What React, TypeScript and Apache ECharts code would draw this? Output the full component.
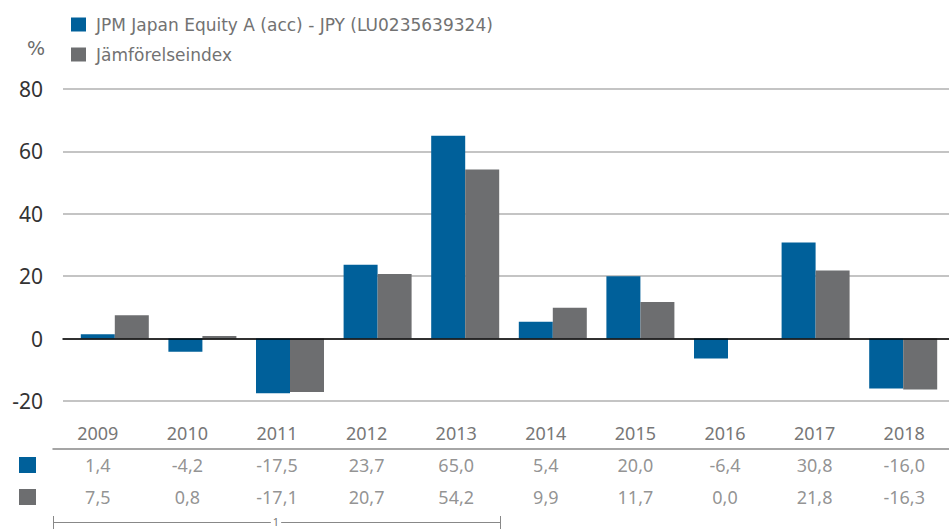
import React, { useEffect, useRef } from "react";
import * as echarts from "echarts";

const years = ["2009", "2010", "2011", "2012", "2013", "2014", "2015", "2016", "2017", "2018"];
const fundName = "JPM Japan Equity A (acc) - JPY (LU0235639324)";
const benchName = "Jämförelseindex";
const fundValues = [1.4, -4.2, -17.5, 23.7, 65.0, 5.4, 20.0, -6.4, 30.8, -16.0];
const benchValues = [7.5, 0.8, -17.1, 20.7, 54.2, 9.9, 11.7, 0.0, 21.8, -16.3];
const rows = ["fund", "bench"];
const yMin = -20;
const yMax = 80;
const yInterval = 20;

const BLUE = "#00609A";
const GRAY = "#6D6E70";
const FONT = "'Noto Sans', 'Open Sans', sans-serif";
const LEGEND_FONT = "'DejaVu Sans', 'Noto Sans', sans-serif";

const fmt = (v: number) => v.toFixed(1).replace(".", ",");

export default function App() {
  const ref = useRef<HTMLDivElement>(null);
  useEffect(() => {
    if (!ref.current) return;
    const chart = echarts.init(ref.current, undefined, { renderer: "svg" });
    const option: any = {
      animation: false,
      textStyle: { fontFamily: FONT },
      legend: {
        data: [fundName, benchName],
        orient: "vertical",
        left: 66,
        top: 11,
        icon: "rect",
        itemWidth: 15,
        itemHeight: 14,
        itemGap: 13,
        selectedMode: false,
        textStyle: {
          color: "#727272",
          fontSize: 17,
          lineHeight: 14,
          fontFamily: LEGEND_FONT,
          padding: [0, 0, 0, 5],
        },
      },
      graphic: [
        { type: "text", left: 27, top: 38, style: { text: "%", fontSize: 19, fill: "#6b6b6b", fontFamily: LEGEND_FONT } },
        { type: "line", shape: { x1: 53, y1: 522.5, x2: 500, y2: 522.5 }, style: { stroke: "#888", lineWidth: 1 } },
        { type: "line", shape: { x1: 53.5, y1: 516, x2: 53.5, y2: 529 }, style: { stroke: "#888", lineWidth: 1 } },
        { type: "line", shape: { x1: 500.5, y1: 516, x2: 500.5, y2: 529 }, style: { stroke: "#888", lineWidth: 1 } },
        {
          type: "text",
          x: 276,
          y: 521,
          style: {
            text: "1",
            fontSize: 11,
            fill: "#777",
            fontFamily: FONT,
            align: "center",
            verticalAlign: "middle",
            backgroundColor: "#fff",
            padding: [0, 2],
          },
        },
      ],
      grid: [
        { left: 63, right: 0, top: 89, height: 312 },
        { left: 71, right: 2, top: 89, height: 312 },
        { left: 53, right: -4, top: 449, height: 64 },
      ],
      xAxis: [
        {
          gridIndex: 0,
          type: "category",
          data: years,
          axisLabel: { show: false },
          axisTick: { show: false },
          axisLine: { show: true, onZero: true, lineStyle: { color: "#000", width: 1.5 } },
          splitLine: { show: false },
          z: 5,
        },
        {
          gridIndex: 1,
          type: "category",
          data: years,
          axisLabel: { show: false },
          axisTick: { show: false },
          axisLine: { show: false },
        },
        {
          gridIndex: 2,
          type: "category",
          data: years,
          position: "top",
          axisTick: { show: false },
          axisLine: { show: true, lineStyle: { color: "#888", width: 1.5 } },
          axisLabel: { color: "#777", fontSize: 18, margin: 7, fontFamily: FONT },
        },
      ],
      yAxis: [
        {
          gridIndex: 0,
          type: "value",
          min: yMin,
          max: yMax,
          interval: yInterval,
          axisLabel: { color: "#333", fontSize: 21, margin: 20, fontFamily: FONT },
          axisLine: { show: false },
          axisTick: { show: false },
          splitLine: { show: true, lineStyle: { color: "#c4c4c4", width: 2 } },
        },
        {
          gridIndex: 1,
          type: "value",
          min: yMin,
          max: yMax,
          interval: yInterval,
          show: false,
          splitLine: { show: false },
        },
        {
          gridIndex: 2,
          type: "category",
          data: rows,
          inverse: true,
          axisLine: { show: false },
          axisTick: { show: false },
          splitLine: { show: false },
          axisLabel: {
            margin: 17,
            formatter: (_v: string, i: number) => (i === 0 ? "{a|}" : "{b|}"),
            rich: {
              a: { width: 17, height: 16, backgroundColor: BLUE },
              b: { width: 17, height: 16, backgroundColor: GRAY },
            },
          },
        },
      ],
      series: [
        {
          name: fundName,
          type: "bar",
          xAxisIndex: 1,
          yAxisIndex: 1,
          data: fundValues,
          barWidth: 34,
          barGap: "0%",
          itemStyle: { color: BLUE },
        },
        {
          name: benchName,
          type: "bar",
          xAxisIndex: 1,
          yAxisIndex: 1,
          data: benchValues,
          barWidth: 34,
          barGap: "0%",
          itemStyle: { color: GRAY },
        },
        {
          name: "tableFund",
          type: "scatter",
          xAxisIndex: 2,
          yAxisIndex: 2,
          symbolSize: 1,
          itemStyle: { color: "transparent" },
          data: fundValues.map((v, i) => [i, 0, v]),
          label: {
            show: true,
            position: "inside",
            color: "#777",
            fontSize: 18,
            fontFamily: FONT,
            formatter: (p: any) => fmt(p.value[2]),
          },
        },
        {
          name: "tableBench",
          type: "scatter",
          xAxisIndex: 2,
          yAxisIndex: 2,
          symbolSize: 1,
          itemStyle: { color: "transparent" },
          data: benchValues.map((v, i) => [i, 1, v]),
          label: {
            show: true,
            position: "inside",
            color: "#777",
            fontSize: 18,
            fontFamily: FONT,
            formatter: (p: any) => fmt(p.value[2]),
          },
        },
      ],
    };
    chart.setOption(option);
    return () => chart.dispose();
  }, []);
  return <div ref={ref} style={{ width: 949, height: 529, position: "absolute", left: 0, top: 0 }} />;
}
